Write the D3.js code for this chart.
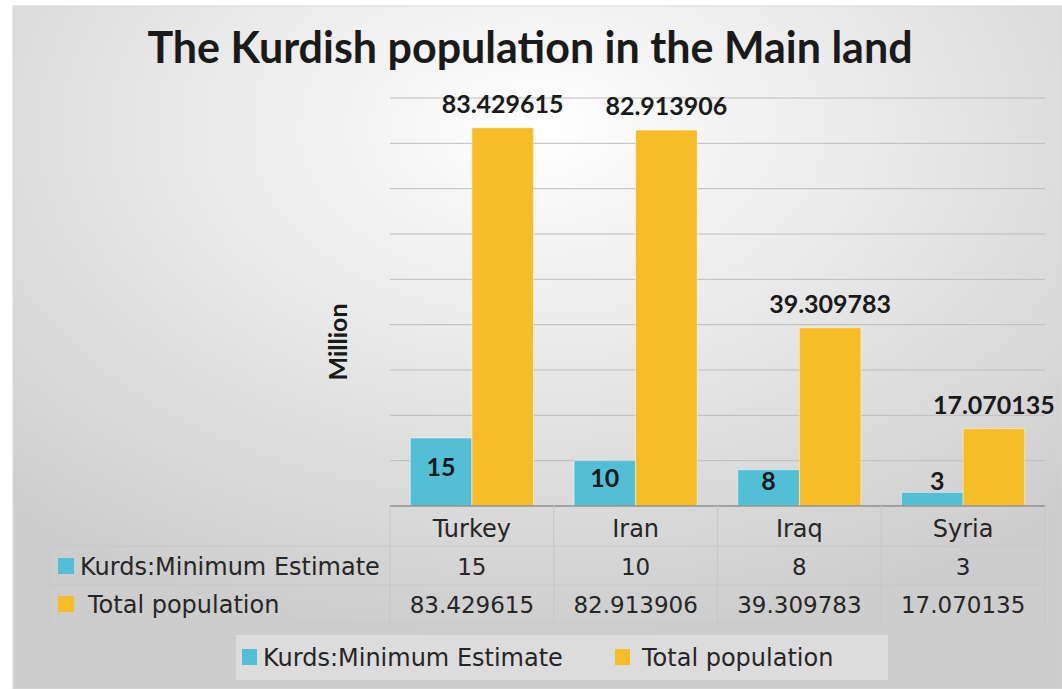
<!DOCTYPE html>
<html>
<head>
<meta charset="utf-8">
<script src="https://cdn.jsdelivr.net/npm/d3@7"></script>
<style>
  body { margin: 0; background: #fff; }
  text { font-family: Lato, "Open Sans", sans-serif; fill: #1a1a1a; }
  text.cell { font-family: "DejaVu Sans", sans-serif; fill: #262626; }
</style>
</head>
<body>
<svg id="chart" width="1062" height="689"></svg>
<script>
  // data
  const countries = ['Turkey', 'Iran', 'Iraq', 'Syria'];
  const seriesNames = ['Kurds:Minimum Estimate', 'Total population'];
  const kurdsMin = [15, 10, 8, 3];
  const totalPop = [83.429615, 82.913906, 39.309783, 17.070135];
  const kurdsLabels = ['15', '10', '8', '3'];
  const totalLabels = ['83.429615', '82.913906', '39.309783', '17.070135'];

  const colors = ['#52bfd6', '#f6bd27'];

  const svg = d3.select('#chart');

  // background with a soft light spot
  const defs = svg.append('defs');
  const grad = defs.append('radialGradient')
      .attr('id', 'bg')
      .attr('cx', '50%').attr('cy', '18%').attr('r', '75%');
  grad.append('stop').attr('offset', '0%').attr('stop-color', '#ffffff');
  grad.append('stop').attr('offset', '30%').attr('stop-color', '#f0f0f0');
  grad.append('stop').attr('offset', '100%').attr('stop-color', '#cdcdcd');

  svg.append('rect')
      .attr('x', 13).attr('y', 6)
      .attr('width', 1062 - 13).attr('height', 689 - 6)
      .attr('fill', 'url(#bg)')
      .attr('stroke', '#d8d8d8');

  // title
  svg.append('text')
      .attr('x', 530).attr('y', 63)
      .attr('text-anchor', 'middle')
      .style('font-size', '43px')
      .style('font-weight', 'bold')
      .text('The Kurdish population in the Main land');

  // scales
  const x = d3.scaleBand().domain(countries).range([390, 1045]);
  const xs = d3.scaleBand().domain(seriesNames).range([0, x.bandwidth()]).paddingOuter(0.33);
  const y = d3.scaleLinear().domain([0, 90]).range([506, 98]);

  // gridlines
  svg.append('g')
    .selectAll('line')
    .data(y.ticks(9).filter(d => d > 0))
    .enter().append('line')
      .attr('x1', 390).attr('x2', 1045)
      .attr('y1', d => y(d)).attr('y2', d => y(d))
      .attr('stroke', '#bdbdbd')
      .attr('stroke-width', 1);

  // y axis title
  svg.append('text')
      .attr('transform', 'translate(347, 342) rotate(-90)')
      .attr('text-anchor', 'middle')
      .style('font-size', '25px')
      .style('font-weight', 'bold')
      .text('Million');

  // bars
  const seriesValues = [kurdsMin, totalPop];
  seriesValues.forEach((vals, s) => {
    svg.append('g')
      .selectAll('rect')
      .data(vals)
      .enter().append('rect')
        .attr('x', (d, i) => x(countries[i]) + xs(seriesNames[s]))
        .attr('y', d => y(d))
        .attr('width', xs.bandwidth())
        .attr('height', d => y(0) - y(d))
        .attr('fill', colors[s])
        .attr('stroke', 'rgba(255,255,255,0.45)')
        .attr('stroke-width', 1);
  });

  // labels on the Kurds bars (inside, or above when the bar is too short)
  svg.append('g')
    .selectAll('text')
    .data(kurdsMin)
    .enter().append('text')
      .attr('x', (d, i) => x(countries[i]) + xs(seriesNames[0]) + xs.bandwidth() / 2 + (d < 5 ? 5 : 0))
      .attr('y', d => Math.min((y(d) + y(0)) / 2 - 5, 481))
      .attr('dy', '0.36em')
      .attr('text-anchor', 'middle')
      .style('font-size', '25px')
      .style('font-weight', 'bold')
      .text((d, i) => kurdsLabels[i]);

  // labels above the total bars
  svg.append('g')
    .selectAll('text')
    .data(totalPop)
    .enter().append('text')
      .attr('x', (d, i) => x(countries[i]) + xs(seriesNames[1]) + xs.bandwidth() / 2)
      .attr('y', d => y(d) - 15)
      .attr('text-anchor', 'middle')
      .style('font-size', '25px')
      .style('font-weight', 'bold')
      .text((d, i) => totalLabels[i]);

  // axis line
  svg.append('line')
      .attr('x1', 390).attr('x2', 1045)
      .attr('y1', y(0)).attr('y2', y(0))
      .attr('stroke', '#8f8f8f')
      .attr('stroke-width', 1.5);

  // data table under the chart
  const rowTop = [506, 546, 585, 624];
  const table = svg.append('g').attr('stroke', '#c8c8c8').attr('stroke-width', 1.2);

  x.domain().concat(['end']).forEach((c, i) => {
    const cx = i < countries.length ? x(c) : 1045;
    table.append('line')
        .attr('x1', cx).attr('x2', cx)
        .attr('y1', rowTop[0]).attr('y2', rowTop[3]);
  });
  [1, 2, 3].forEach(r => {
    table.append('line')
        .attr('x1', 50).attr('x2', 1045)
        .attr('y1', rowTop[r]).attr('y2', rowTop[r]);
  });
  table.append('line')
      .attr('x1', 50).attr('x2', 50)
      .attr('y1', rowTop[1]).attr('y2', rowTop[3]);

  const cellFont = '24px';

  // header row
  svg.append('g')
    .selectAll('text')
    .data(countries)
    .enter().append('text')
      .attr('class', 'cell')
      .attr('x', d => x(d) + x.bandwidth() / 2)
      .attr('y', 537)
      .attr('text-anchor', 'middle')
      .style('font-size', cellFont)
      .text(d => d);

  // value rows
  const rowLabels = [kurdsLabels, totalLabels];
  const rowBase = [575, 613];
  rowLabels.forEach((labels, r) => {
    svg.append('g')
      .selectAll('text')
      .data(labels)
      .enter().append('text')
        .attr('class', 'cell')
        .attr('x', (d, i) => x(countries[i]) + x.bandwidth() / 2)
        .attr('y', rowBase[r])
        .attr('text-anchor', 'middle')
        .style('font-size', '23px')
        .text(d => d);

    svg.append('rect')
        .attr('x', 58).attr('y', rowBase[r] - 17)
        .attr('width', 16).attr('height', 16)
        .attr('fill', colors[r]);

    svg.append('text')
        .attr('class', 'cell')
        .attr('x', r === 0 ? 80 : 88)
        .attr('y', rowBase[r])
        .style('font-size', cellFont)
        .text(seriesNames[r]);
  });

  // legend at the bottom
  svg.append('rect')
      .attr('x', 236).attr('y', 635)
      .attr('width', 652).attr('height', 45)
      .attr('fill', 'rgba(255,255,255,0.3)');

  const legendX = [242, 615];
  seriesNames.forEach((name, i) => {
    svg.append('rect')
        .attr('x', legendX[i]).attr('y', 649)
        .attr('width', 15).attr('height', 16)
        .attr('fill', colors[i]);
    svg.append('text')
        .attr('class', 'cell')
        .attr('x', legendX[i] + (i === 0 ? 21 : 27))
        .attr('y', 666)
        .style('font-size', cellFont)
        .text(name);
  });
</script>
</body>
</html>
